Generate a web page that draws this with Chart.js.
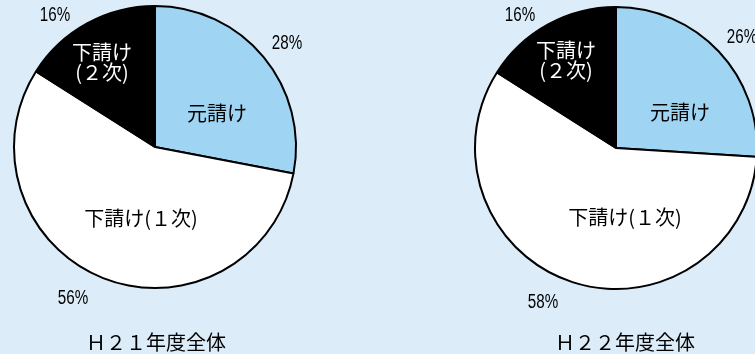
<!DOCTYPE html>
<html>
<head>
<meta charset="utf-8">
<script src="https://cdn.jsdelivr.net/npm/chart.js@4"></script>
<style>
  html, body { margin: 0; padding: 0; background: #dcedf9; }
  #wrap { position: relative; width: 755px; height: 354px; overflow: hidden; }
  canvas { position: absolute; top: 0; }
</style>
</head>
<body>
<div id="wrap">
  <canvas id="h21" width="378" height="354" style="left:0"></canvas>
  <canvas id="h22" width="377" height="354" style="left:378px"></canvas>
</div>
<script>
const categorias = ['元請け', '下請け(１次)', ['下請け', '(２次)']];
const valoresH21 = [28, 56, 16];
const valoresH22 = [26, 58, 16];
const titulos = ['Ｈ２１年度全体', 'Ｈ２２年度全体'];

const cores = ['#9fd4f2', '#ffffff', '#000000'];
const coresTexto = ['#000000', '#000000', '#ffffff'];

// desenha nomes, porcentagens e título a partir do centro do gráfico
const rotulosPlugin = {
  id: 'rotulos',
  afterDatasetsDraw(chart, args, opts) {
    const ctx = chart.ctx;
    const arcs = chart.getDatasetMeta(0).data;
    const valores = chart.data.datasets[0].data;
    const cx = arcs[0].x;
    const cy = arcs[0].y;
    ctx.save();
    ctx.textAlign = 'center';
    ctx.textBaseline = 'middle';
    arcs.forEach((arc, i) => {
      const nome = chart.data.labels[i];
      const linhas = Array.isArray(nome) ? nome : [nome];
      ctx.font = '20px "Noto Sans CJK JP", sans-serif';
      ctx.fillStyle = coresTexto[i];
      const [dx, dy] = opts.dentro[i];
      linhas.forEach((l, k) => ctx.fillText(l, cx + dx, cy + dy + k * 20));

      // fonte estreita: comprime na horizontal
      ctx.font = '20px "Liberation Sans", Arial, sans-serif';
      ctx.fillStyle = '#000';
      const [fx, fy] = opts.fora[i];
      ctx.save();
      ctx.translate(cx + fx, cy + fy);
      ctx.scale(0.76, 1);
      ctx.fillText(valores[i] + '%', 0, 0);
      ctx.restore();
    });
    ctx.font = '20px "Noto Sans CJK JP", sans-serif';
    ctx.fillStyle = '#000';
    ctx.fillText(opts.titulo, cx + opts.tituloPos[0], cy + opts.tituloPos[1]);
    ctx.restore();
  }
};

function criarPizza(id, valores, titulo, padding, rot) {
  new Chart(document.getElementById(id), {
    type: 'pie',
    data: {
      labels: categorias,
      datasets: [{
        data: valores,
        backgroundColor: cores,
        borderColor: '#000000',
        borderWidth: 2,
        radius: 141,
        hoverOffset: 0
      }]
    },
    options: {
      responsive: false,
      animation: false,
      events: [],
      layout: { padding: padding },
      plugins: {
        legend: { display: false },
        tooltip: { enabled: false },
        rotulos: Object.assign({ titulo: titulo }, rot)
      }
    },
    plugins: [rotulosPlugin]
  });
}

criarPizza('h21', valoresH21, titulos[0],
  { left: 0, right: 68, top: 0, bottom: 60 },
  {
    dentro: [[62, -34], [-14, 71], [-53, -95]],
    fora: [[132, -104], [-82, 151], [-100, -132]],
    tituloPos: [1, 195]
  });

criarPizza('h22', valoresH22, titulos[1],
  { left: 99, right: 0, top: 0, bottom: 58 },
  {
    dentro: [[64, -36], [9, 69], [-50, -98]],
    fora: [[126, -111], [-73, 154], [-96, -133]],
    tituloPos: [9, 194]
  });
</script>
</body>
</html>
